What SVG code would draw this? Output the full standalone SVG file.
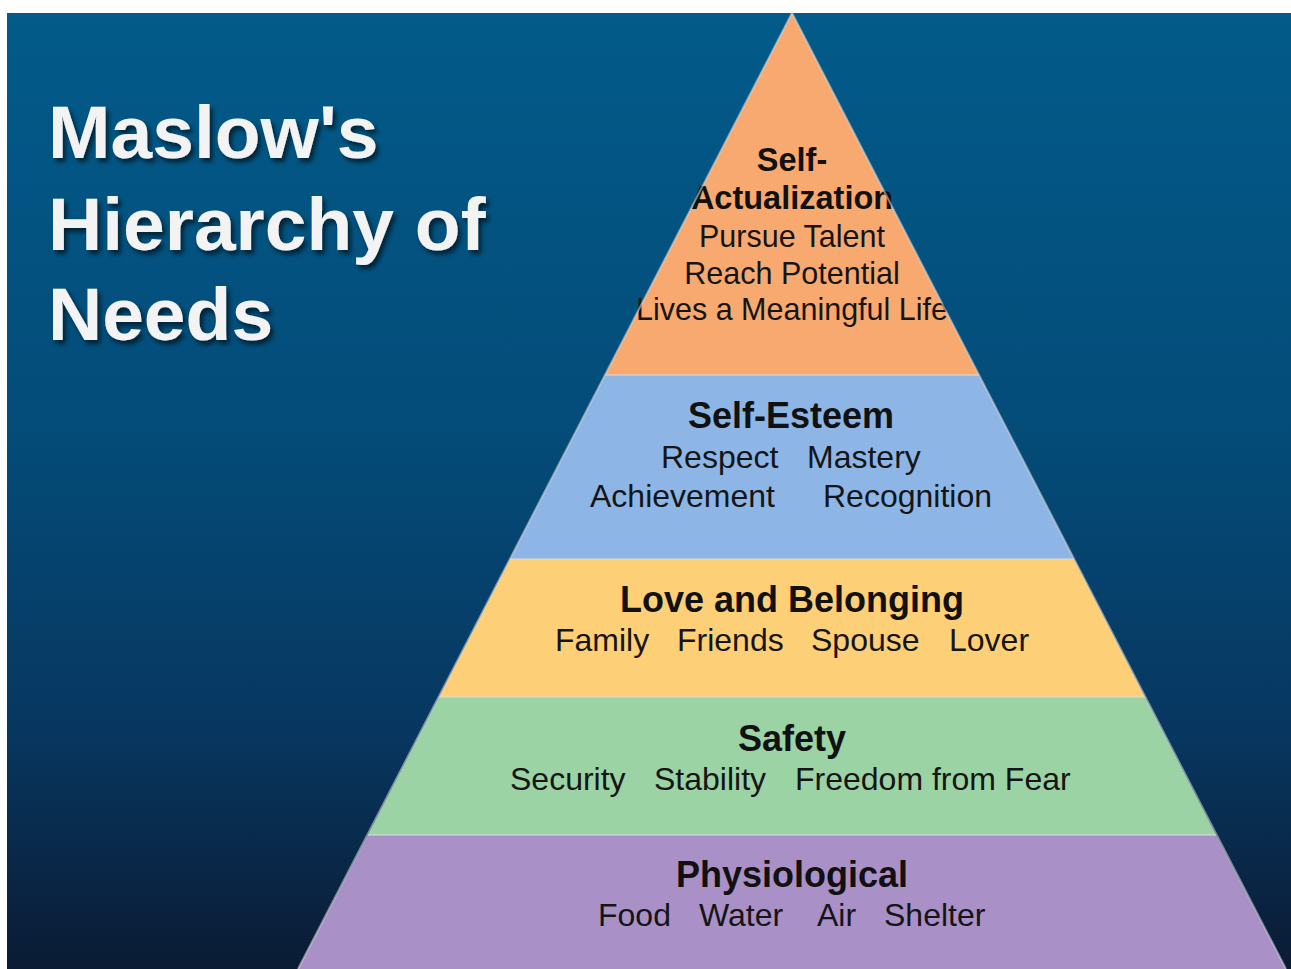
<svg xmlns="http://www.w3.org/2000/svg" width="1291" height="969" viewBox="0 0 1291 969">
  <defs>
    <linearGradient id="bg" x1="0" y1="0" x2="0" y2="1">
      <stop offset="0" stop-color="#025b8a"/>
      <stop offset="0.45" stop-color="#044b78"/>
      <stop offset="0.75" stop-color="#073760"/>
      <stop offset="1" stop-color="#0b1b34"/>
    </linearGradient>
    <filter id="shadow" x="-10%" y="-20%" width="120%" height="140%">
      <feDropShadow dx="3" dy="4" stdDeviation="2.5" flood-color="#000" flood-opacity="0.6"/>
    </filter>
    <style>
      .title { font-family: "Liberation Sans", Arial, sans-serif; font-weight: bold; font-size: 75px; fill: #f3f3f3; }
      .head { font-family: "Liberation Sans", Arial, sans-serif; font-weight: bold; font-size: 36px; fill: #111; text-anchor: middle; }
      .item { font-family: "Liberation Sans", Arial, sans-serif; font-size: 32px; fill: #151515; }
      .top { font-size: 30.5px; }
      .mid { text-anchor: middle; }
      .edge { stroke: #d9d9d9; stroke-opacity: 0.55; stroke-width: 2; fill: none; }
    </style>
  </defs>

  <!-- page margin and backdrop -->
  <rect x="0" y="0" width="1291" height="969" fill="#ffffff"/>
  <rect x="7" y="13" width="1284" height="956" fill="url(#bg)"/>

  <!-- title -->
  <g id="title" filter="url(#shadow)">
    <text class="title" x="48" y="158">Maslow's</text>
    <text class="title" x="48" y="250">Hierarchy of</text>
    <text class="title" x="48" y="340">Needs</text>
  </g>

  <!-- pyramid levels, top to bottom -->
  <g id="self-actualization">
    <polygon points="792,13 979,375 605,375" fill="#f8a96f"/>
    <text class="head" x="792" y="171" style="font-size:32.5px">Self-</text>
    <text class="head" x="792" y="209" style="font-size:32.5px">Actualization</text>
    <text class="item top mid" x="792" y="247">Pursue Talent</text>
    <text class="item top mid" x="792" y="284">Reach Potential</text>
    <text class="item top mid" x="792" y="320">Lives a Meaningful Life</text>
  </g>

  <g id="self-esteem">
    <polygon points="605,375 979,375 1074,559 510,559" fill="#8db6e6"/>
    <text class="head" x="791" y="428">Self-Esteem</text>
    <text class="item" x="661" y="468">Respect</text>
    <text class="item" x="807" y="468">Mastery</text>
    <text class="item" x="590" y="507">Achievement</text>
    <text class="item" x="823" y="507">Recognition</text>
  </g>

  <g id="love-belonging">
    <polygon points="510,559 1074,559 1145,697 439,697" fill="#fdd078"/>
    <text class="head" x="792" y="612">Love and Belonging</text>
    <text class="item" x="555" y="651">Family</text>
    <text class="item" x="677" y="651">Friends</text>
    <text class="item" x="811" y="651">Spouse</text>
    <text class="item" x="949" y="651">Lover</text>
  </g>

  <g id="safety">
    <polygon points="439,697 1145,697 1216,835 368,835" fill="#9bd3a4"/>
    <text class="head" x="792" y="751">Safety</text>
    <text class="item" x="510" y="790">Security</text>
    <text class="item" x="654" y="790">Stability</text>
    <text class="item" x="795" y="790">Freedom from Fear</text>
  </g>

  <g id="physiological">
    <polygon points="368,835 1216,835 1286,969 298,969" fill="#a990c7"/>
    <text class="head" x="792" y="887">Physiological</text>
    <text class="item" x="598" y="926">Food</text>
    <text class="item" x="699" y="926">Water</text>
    <text class="item" x="817" y="926">Air</text>
    <text class="item" x="884" y="926">Shelter</text>
  </g>

  <!-- level dividers and outline -->
  <g id="dividers">
    <line class="edge" x1="605" y1="375" x2="979" y2="375"/>
    <line class="edge" x1="510" y1="559" x2="1074" y2="559"/>
    <line class="edge" x1="439" y1="697" x2="1145" y2="697"/>
    <line class="edge" x1="368" y1="835" x2="1216" y2="835"/>
    <polyline class="edge" points="298,969 792,13 1286,969" stroke-opacity="0.35" stroke-width="1.5"/>
  </g>
</svg>
